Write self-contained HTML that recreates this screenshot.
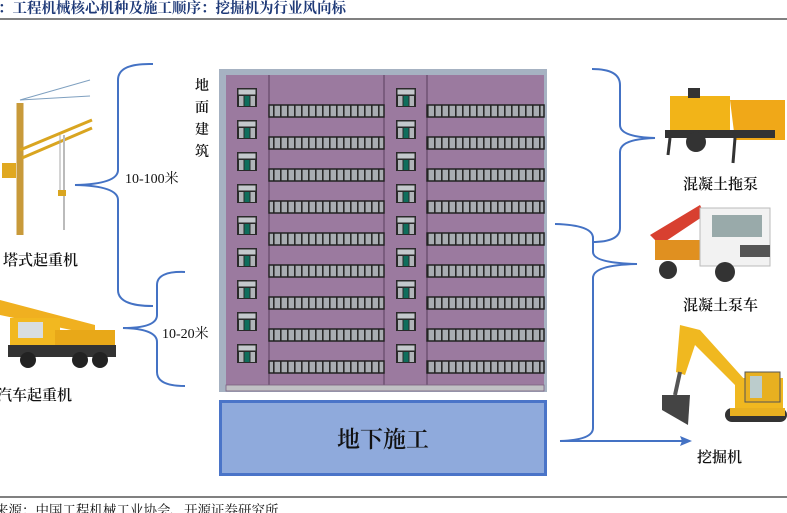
<!DOCTYPE html>
<html><head><meta charset="utf-8"><style>
body{margin:0;width:787px;height:513px;overflow:hidden;background:#fff;font-family:"Liberation Serif","Noto Serif CJK SC",serif;}
svg{position:absolute;left:0;top:0}
</style></head><body>
<svg width="787" height="513" viewBox="0 0 787 513" xmlns="http://www.w3.org/2000/svg">
<defs>
<pattern id="strip" x="0" y="0" width="7" height="12" patternUnits="userSpaceOnUse">
<rect width="7" height="12" fill="#a9adb2"/><rect width="1.6" height="12" fill="#2a2a2a"/>
</pattern>
<g id="floor">
<g transform="translate(237,0)"><rect x="0" y="0" width="20" height="19" fill="#2a2a2a"/><rect x="1.5" y="1.5" width="17" height="5" fill="#c4c8cc"/><rect x="2" y="8" width="4.5" height="10" fill="#b0b4b8"/><rect x="7.5" y="8" width="5" height="10" fill="#0f6e5c"/><rect x="13.5" y="8" width="4.5" height="10" fill="#b0b4b8"/></g>
<g transform="translate(396,0)"><rect x="0" y="0" width="20" height="19" fill="#2a2a2a"/><rect x="1.5" y="1.5" width="17" height="5" fill="#c4c8cc"/><rect x="2" y="8" width="4.5" height="10" fill="#b0b4b8"/><rect x="7.5" y="8" width="5" height="10" fill="#0f6e5c"/><rect x="13.5" y="8" width="4.5" height="10" fill="#b0b4b8"/></g>
<rect x="269" y="17" width="115" height="12" fill="url(#strip)" stroke="#222" stroke-width="1.5"/>
<rect x="427" y="17" width="117" height="12" fill="url(#strip)" stroke="#222" stroke-width="1.5"/>
</g>
</defs>

<!-- title -->
<text x="-2" y="13" font-size="14.5" font-weight="bold" fill="#1f3a78" font-family="'Noto Serif CJK SC',serif">：工程机械核心机种及施工顺序：挖掘机为行业风向标</text>
<rect x="0" y="18" width="787" height="2" fill="#808080"/>

<!-- building -->
<rect x="219" y="69" width="328" height="323" fill="#a6b2c2"/>
<rect x="226" y="75" width="318" height="310" fill="#9b7a9f"/>
<line x1="269" y1="75" x2="269" y2="391" stroke="#5a3f5e" stroke-width="1"/>
<line x1="384" y1="75" x2="384" y2="391" stroke="#5a3f5e" stroke-width="1"/>
<line x1="427" y1="75" x2="427" y2="391" stroke="#5a3f5e" stroke-width="1"/>
<rect x="226" y="385" width="318" height="6" fill="#c0c0c4" stroke="#7a6080" stroke-width="0.8"/>
<use href="#floor" y="88"/><use href="#floor" y="120"/><use href="#floor" y="152"/>
<use href="#floor" y="184"/><use href="#floor" y="216"/><use href="#floor" y="248"/>
<use href="#floor" y="280"/><use href="#floor" y="312"/><use href="#floor" y="344"/>

<!-- underground -->
<rect x="220.5" y="401.5" width="325" height="73" fill="#8faadc" stroke="#4a74c8" stroke-width="3"/>
<text x="383" y="447" font-size="23" text-anchor="middle" fill="#111" font-weight="600" font-family="'Noto Serif CJK SC',serif">地下施工</text>

<!-- vertical label -->
<g font-size="14" fill="#111" text-anchor="middle" font-weight="600" font-family="'Noto Serif CJK SC',serif">
<text x="202" y="90">地</text><text x="202" y="112">面</text><text x="202" y="134">建</text><text x="202" y="156">筑</text>
</g>

<!-- braces -->
<g fill="none" stroke="#4472c4" stroke-width="2">
<path d="M153,64 Q118,63 118,80 L118,170 Q118,184 75,185 Q118,186 118,200 L118,290 Q118,306 153,306"/>
<path d="M185,272 Q157,271 157,285 L157,315 Q157,328 123,328 Q157,329 157,342 L157,372 Q157,386 185,386"/>
<path d="M592,69 Q620,69 620,85 L620,125 Q620,137 655,138 Q620,139 620,152 L620,228 Q620,242 592,242"/>
<path d="M555,224 Q593,225 593,238 L593,252 Q593,263 637,264 Q593,265 593,278 L593,428 Q593,440 560,441 L686,441"/>
</g>
<path d="M692,441 L680,436 L682,441 L680,446 Z" fill="#4472c4"/>

<g font-size="14" fill="#111">
<text x="125" y="183">10-100米</text>
<text x="162" y="338">10-20米</text>
</g>
<g font-size="15" fill="#111" font-weight="600" font-family="'Noto Serif CJK SC',serif">
<text x="3" y="265">塔式起重机</text>
<text x="-3" y="400">汽车起重机</text>
<text x="683" y="189">混凝土拖泵</text>
<text x="683" y="310">混凝土泵车</text>
<text x="697" y="462">挖掘机</text>
</g>

<!-- tower crane -->
<g stroke="#d9a520" fill="none">
<line x1="20" y1="103" x2="20" y2="235" stroke-width="7" stroke="#c89a3a"/>
<line x1="20" y1="100" x2="90" y2="80" stroke="#7fa0c0" stroke-width="1"/>
<line x1="20" y1="100" x2="90" y2="96" stroke="#7fa0c0" stroke-width="1"/>
<path d="M20,150 L92,120 M22,158 L92,128" stroke-width="3"/>
<line x1="60" y1="135" x2="60" y2="190" stroke="#aaa" stroke-width="1"/>
<line x1="64" y1="135" x2="64" y2="230" stroke="#bbb" stroke-width="2"/>
</g>
<rect x="2" y="163" width="14" height="15" fill="#e0a820"/>
<rect x="58" y="190" width="8" height="6" fill="#d9a520"/>

<!-- truck crane -->
<path d="M0,300 L95,325 L95,335 L0,315 Z" fill="#f0b020"/>
<rect x="10" y="318" width="50" height="30" fill="#f2b820"/>
<rect x="18" y="322" width="25" height="16" fill="#d8dde0"/>
<rect x="55" y="330" width="60" height="16" fill="#e8a818"/>
<rect x="8" y="345" width="108" height="12" fill="#333"/>
<circle cx="80" cy="360" r="8" fill="#222"/><circle cx="100" cy="360" r="8" fill="#222"/><circle cx="28" cy="360" r="8" fill="#222"/>

<!-- concrete trailer pump -->
<rect x="670" y="96" width="60" height="38" fill="#f2b418"/>
<path d="M730,100 L785,100 L785,140 L735,140 Z" fill="#f0a818"/>
<rect x="665" y="130" width="110" height="8" fill="#333"/>
<circle cx="696" cy="142" r="10" fill="#333"/>
<rect x="688" y="88" width="12" height="10" fill="#333"/>
<line x1="670" y1="138" x2="668" y2="155" stroke="#333" stroke-width="3"/>
<line x1="735" y1="138" x2="733" y2="163" stroke="#333" stroke-width="3"/>

<!-- pump truck -->
<path d="M650,235 L700,205 L705,215 L660,245 Z" fill="#d84030"/>
<rect x="655" y="240" width="50" height="20" fill="#e09020"/>
<rect x="700" y="208" width="70" height="58" fill="#f2f2f2" stroke="#bbb"/>
<rect x="712" y="215" width="50" height="22" fill="#9aa"/>
<rect x="740" y="245" width="30" height="12" fill="#555"/>
<circle cx="668" cy="270" r="9" fill="#333"/><circle cx="725" cy="272" r="10" fill="#333"/>

<!-- excavator -->
<path d="M680,325 L700,330 L745,380 L738,388 L695,345 L685,375 L676,372 Z" fill="#f0b820"/>
<path d="M662,395 L690,395 L688,425 L662,410 Z" fill="#444"/>
<line x1="680" y1="372" x2="675" y2="395" stroke="#555" stroke-width="4"/>
<rect x="735" y="378" width="48" height="30" fill="#f0b820"/>
<rect x="745" y="372" width="35" height="30" fill="#e8b020" stroke="#555"/>
<rect x="750" y="376" width="12" height="22" fill="#bcc"/>
<rect x="725" y="408" width="62" height="14" rx="7" fill="#333"/>
<rect x="730" y="408" width="55" height="8" fill="#e8b020"/>

<!-- footer -->
<rect x="0" y="496" width="787" height="2" fill="#808080"/>
<text x="-5" y="515" font-size="13.5" fill="#111" font-family="'Noto Serif CJK SC',serif">来源：中国工程机械工业协会、开源证券研究所</text>
</svg>
</body></html>
